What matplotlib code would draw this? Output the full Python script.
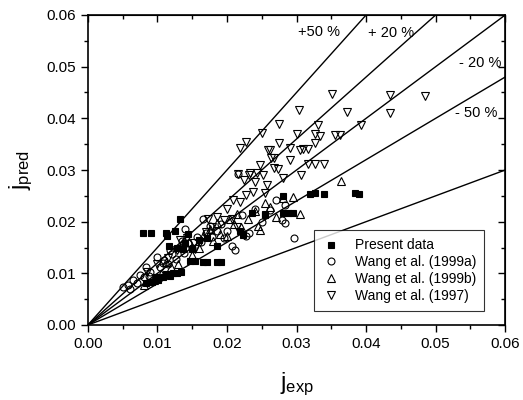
import matplotlib.pyplot as plt
from matplotlib.ticker import MultipleLocator

plt.rcParams['font.family'] = ['Liberation Sans', 'DejaVu Sans']
plt.rcParams['mathtext.fontset'] = 'custom'
plt.rcParams['mathtext.rm'] = 'Liberation Sans'
plt.rcParams['mathtext.it'] = 'Liberation Sans'

# prediction bands: slope of y = k * x
band_slopes = [1.5, 1.2, 1.0, 0.8, 0.5]
band_labels = ['+50 %', '+ 20 %', '- 20 %', '- 50 %']
band_label_x = [0.0332, 0.0436, 0.0564, 0.0558]
band_label_y = [0.0567, 0.0565, 0.0507, 0.0410]

# Present data (filled squares)
present_x = [0.0079, 0.0091, 0.0112, 0.0125, 0.0132, 0.0114, 0.0144, 0.0116,
             0.0128, 0.0137, 0.0150, 0.0147, 0.0154, 0.0166, 0.0171, 0.0185,
             0.0192, 0.0128, 0.0118, 0.0108, 0.0101, 0.0092, 0.0084, 0.0112,
             0.0122, 0.0134, 0.0171, 0.0185, 0.0219, 0.0223, 0.0236, 0.0255,
             0.0255, 0.0281, 0.0281, 0.0288, 0.0295, 0.0319, 0.0327, 0.0340,
             0.0384, 0.0390, 0.0140, 0.0160, 0.0098]
present_y = [0.0178, 0.0179, 0.0179, 0.0182, 0.0205, 0.0172, 0.0176, 0.0152,
             0.0150, 0.0148, 0.0148, 0.0123, 0.0124, 0.0122, 0.0122, 0.0122,
             0.0122, 0.0101, 0.0095, 0.0093, 0.0088, 0.0084, 0.0081, 0.0098,
             0.0100, 0.0103, 0.0169, 0.0152, 0.0181, 0.0174, 0.0216, 0.0213,
             0.0214, 0.0250, 0.0216, 0.0216, 0.0216, 0.0253, 0.0255, 0.0253,
             0.0255, 0.0254, 0.0158, 0.0164, 0.0092]

# Wang et al. (1999a) (open circles)
wang99a_x = [0.0051, 0.0058, 0.0065, 0.0070, 0.0075, 0.0080, 0.0084, 0.0090,
             0.0099, 0.0104, 0.0110, 0.0115, 0.0121, 0.0126, 0.0132, 0.0138,
             0.0144, 0.0150, 0.0157, 0.0163, 0.0170, 0.0178, 0.0185, 0.0192,
             0.0200, 0.0207, 0.0212, 0.0228, 0.0231, 0.0271, 0.0279, 0.0283,
             0.0283, 0.0297, 0.0216, 0.0165, 0.0140, 0.0240, 0.0250, 0.0195,
             0.0060, 0.0088, 0.0108, 0.0135, 0.0175, 0.0222, 0.0262, 0.0118]
wang99a_y = [0.0074, 0.0078, 0.0087, 0.0082, 0.0097, 0.0092, 0.0113, 0.0102,
             0.0132, 0.0112, 0.0125, 0.0118, 0.0138, 0.0128, 0.0150, 0.0140,
             0.0158, 0.0150, 0.0170, 0.0160, 0.0178, 0.0170, 0.0182, 0.0195,
             0.0181, 0.0152, 0.0145, 0.0172, 0.0178, 0.0242, 0.0203, 0.0197,
             0.0232, 0.0169, 0.0293, 0.0205, 0.0185, 0.0225, 0.0200, 0.0168,
             0.0070, 0.0095, 0.0120, 0.0162, 0.0192, 0.0212, 0.0222, 0.0145]

# Wang et al. (1999b) (open up-triangles)
wang99b_x = [0.0080, 0.0095, 0.0105, 0.0120, 0.0130, 0.0145, 0.0150, 0.0160,
             0.0175, 0.0180, 0.0190, 0.0200, 0.0210, 0.0220, 0.0230, 0.0240,
             0.0245, 0.0247, 0.0255, 0.0270, 0.0280, 0.0295, 0.0305, 0.0364,
             0.0185, 0.0215, 0.0112, 0.0165, 0.0205, 0.0262]
wang99b_y = [0.0078, 0.0088, 0.0098, 0.0112, 0.0118, 0.0160, 0.0136, 0.0150,
             0.0185, 0.0162, 0.0176, 0.0172, 0.0196, 0.0190, 0.0206, 0.0220,
             0.0192, 0.0184, 0.0236, 0.0210, 0.0246, 0.0248, 0.0214, 0.0279,
             0.0198, 0.0215, 0.0122, 0.0172, 0.0205, 0.0228]

# Wang et al. (1997) (open down-triangles)
wang97_x = [0.0351, 0.0435, 0.0484, 0.0304, 0.0372, 0.0435, 0.0275, 0.0331,
            0.0393, 0.0251, 0.0300, 0.0327, 0.0334, 0.0355, 0.0363, 0.0275,
            0.0327, 0.0262, 0.0291, 0.0305, 0.0310, 0.0317, 0.0268, 0.0291,
            0.0317, 0.0327, 0.0339, 0.0307, 0.0267, 0.0274, 0.0219, 0.0228,
            0.0259, 0.0247, 0.0264, 0.0231, 0.0243, 0.0216, 0.0224, 0.0233,
            0.0240, 0.0252, 0.0257, 0.0209, 0.0219, 0.0228, 0.0238, 0.0255,
            0.0173, 0.0185, 0.0195, 0.0207, 0.0214, 0.0178, 0.0132, 0.0142,
            0.0152, 0.0161, 0.0154, 0.0128, 0.0100, 0.0085, 0.0115, 0.0200,
            0.0170, 0.0280]
wang97_y = [0.0447, 0.0445, 0.0443, 0.0416, 0.0413, 0.0411, 0.0390, 0.0388,
            0.0387, 0.0371, 0.0369, 0.0369, 0.0366, 0.0368, 0.0368, 0.0352,
            0.0352, 0.0339, 0.0342, 0.0339, 0.0340, 0.0340, 0.0323, 0.0319,
            0.0311, 0.0311, 0.0311, 0.0290, 0.0303, 0.0301, 0.0342, 0.0355,
            0.0339, 0.0310, 0.0323, 0.0290, 0.0294, 0.0292, 0.0281, 0.0294,
            0.0277, 0.0290, 0.0271, 0.0242, 0.0239, 0.0252, 0.0258, 0.0255,
            0.0206, 0.0210, 0.0203, 0.0206, 0.0190, 0.0190, 0.0165, 0.0168,
            0.0158, 0.0161, 0.0148, 0.0145, 0.0118, 0.0102, 0.0130, 0.0225,
            0.0180, 0.0285]

fig = plt.figure(figsize=(5.23, 4.0), dpi=100)
ax = fig.add_axes([0.168, 0.1875, 0.798, 0.775])

xline = [0.0, 0.06]
for k in band_slopes:
    ax.plot(xline, [0.0, 0.06 * k], color='black', lw=1.0, zorder=1)

ms = 5
ax.plot(present_x, present_y, 's', ms=ms, mfc='black', mec='black',
        mew=0.8, label='Present data', zorder=3)
ax.plot(wang99a_x, wang99a_y, 'o', ms=ms, mfc='none', mec='black',
        mew=0.8, label='Wang et al. (1999a)', zorder=2)
ax.plot(wang99b_x, wang99b_y, '^', ms=ms + 1, mfc='none', mec='black',
        mew=0.8, label='Wang et al. (1999b)', zorder=2)
ax.plot(wang97_x, wang97_y, 'v', ms=ms + 1, mfc='none', mec='black',
        mew=0.8, label='Wang et al. (1997)', zorder=2)

for lab, lx, ly in zip(band_labels, band_label_x, band_label_y):
    ax.text(lx, ly, lab, fontsize=10.5, ha='center', va='center')

ax.set_xlim(0, 0.06)
ax.set_ylim(0, 0.06)
ax.xaxis.set_major_locator(MultipleLocator(0.01))
ax.xaxis.set_minor_locator(MultipleLocator(0.005))
ax.yaxis.set_major_locator(MultipleLocator(0.01))
ax.yaxis.set_minor_locator(MultipleLocator(0.005))
ax.xaxis.set_major_formatter(plt.FormatStrFormatter('%.2f'))
ax.yaxis.set_major_formatter(plt.FormatStrFormatter('%.2f'))
ax.tick_params(which='both', direction='out', top=False, right=False,
               labelsize=11, width=1.0)
ax.tick_params(which='major', length=5)
ax.tick_params(which='minor', length=3)

# inward ticks on the top and right edges
sec_x = ax.secondary_xaxis('top')
sec_x.xaxis.set_major_locator(MultipleLocator(0.01))
sec_x.xaxis.set_minor_locator(MultipleLocator(0.005))
sec_x.tick_params(which='both', direction='in', labeltop=False, width=1.0)
sec_x.tick_params(which='major', length=5)
sec_x.tick_params(which='minor', length=3)
sec_y = ax.secondary_yaxis('right')
sec_y.yaxis.set_major_locator(MultipleLocator(0.01))
sec_y.yaxis.set_minor_locator(MultipleLocator(0.005))
sec_y.tick_params(which='both', direction='in', labelright=False, width=1.0)
sec_y.tick_params(which='major', length=5)
sec_y.tick_params(which='minor', length=3)

for sp in ax.spines.values():
    sp.set_linewidth(1.2)

ax.set_xlabel(r'$\mathregular{j_{exp}}$', fontsize=17, labelpad=14)
ax.set_ylabel(r'$\mathregular{j_{pred}}$', fontsize=17, labelpad=8)

leg = ax.legend(loc='lower right', bbox_to_anchor=(0.95, 0.045),
                borderaxespad=0, fontsize=10, frameon=True, fancybox=False,
                edgecolor='black', handlelength=1.2, handletextpad=1.1,
                borderpad=0.6, labelspacing=0.2, numpoints=1)
leg.get_frame().set_linewidth(0.8)

fig.savefig('out.png', dpi=100)
